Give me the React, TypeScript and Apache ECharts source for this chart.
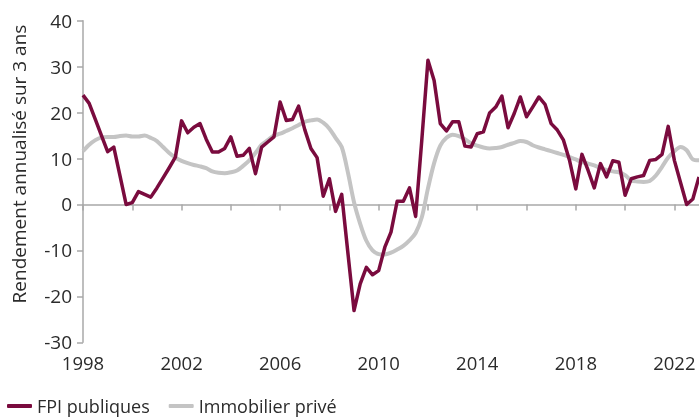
import React, { useEffect, useRef } from "react";
import * as echarts from "echarts";

const years: number[] = [
  1998, 1999, 2000, 2001, 2002, 2003, 2004, 2005, 2006, 2007, 2008, 2009, 2010,
  2011, 2012, 2013, 2014, 2015, 2016, 2017, 2018, 2019, 2020, 2021, 2022, 2023,
];
const quarterNames: string[] = ["T1", "T2", "T3", "T4"];

// FPI publiques, quarterly 1998 T1 .. 2023 T1
const fpiPubliques: number[] = [
  23.8, 22.0, 18.5, 15.0,
  11.5, 12.5, 6.3, 0.0,
  0.4, 2.8, 2.2, 1.6,
  3.6, 5.8, 8.0, 10.3,
  18.2, 15.6, 16.8, 17.6,
  14.2, 11.4, 11.4, 12.2,
  14.7, 10.5, 10.7, 12.2,
  6.7, 12.5, 13.6, 14.7,
  22.3, 18.3, 18.5, 21.4,
  16.3, 12.2, 10.2, 1.8,
  5.6, -1.5, 2.2, -10.5,
  -23.1, -17.3, -13.7, -15.3,
  -14.4, -9.3, -6.0, 0.7,
  0.7, 3.6, -2.6, 14.0,
  31.4, 27.0, 17.6, 16.0,
  18.0, 18.0, 12.7, 12.5,
  15.4, 15.8, 19.9, 21.2,
  23.6, 16.7, 19.8, 23.4,
  19.1, 21.2, 23.4, 21.8,
  17.6, 16.2, 14.0, 9.5,
  3.4, 10.9, 7.4, 3.6,
  8.9, 6.0, 9.5, 9.2,
  2.0, 5.6, 6.0, 6.3,
  9.6, 9.8, 10.9, 17.0,
  9.6, 4.8, 0.0, 1.2,
  6.0,
];

// Immobilier privé, quarterly 1998 T1 .. 2023 T1
const immobilierPrive: number[] = [
  11.6, 13.0, 14.0, 14.6,
  14.7, 14.7, 14.9, 15.0,
  14.8, 14.8, 15.0, 14.5,
  13.8, 12.5, 11.2, 10.2,
  9.5, 9.0, 8.6, 8.3,
  7.9, 7.2, 6.9, 6.8,
  7.0, 7.4, 8.4, 9.6,
  11.2, 13.0, 14.0, 15.0,
  15.4, 16.0, 16.6, 17.3,
  18.0, 18.3, 18.5, 17.8,
  16.5, 14.5, 12.5, 7.0,
  0.5, -4.2, -7.9, -10.0,
  -10.8, -10.9, -10.5, -9.8,
  -9.0, -7.8, -6.2, -2.8,
  3.5, 9.0, 12.8, 14.5,
  15.2, 14.9, 14.2, 13.3,
  12.8, 12.4, 12.2, 12.3,
  12.5, 13.0, 13.4, 13.8,
  13.6, 12.9, 12.4, 12.0,
  11.6, 11.2, 10.8, 10.3,
  9.8, 9.2, 8.9, 8.5,
  7.9, 7.5, 7.2, 7.0,
  6.4, 5.2, 5.0, 4.9,
  5.1, 6.3, 8.2, 10.2,
  11.6, 12.5, 11.8, 9.8,
  9.6,
];

const seriesNames: string[] = ["FPI publiques", "Immobilier privé"];
const yTitle = "Rendement annualisé sur 3 ans";

const categories: string[] = [];
years.forEach((y) => quarterNames.forEach((q) => categories.push(`${y} ${q}`)));
const cats = categories.slice(0, fpiPubliques.length);

const FONT = "'Open Sans', 'Noto Sans', sans-serif";
const TEXT = "#2b2b2b";
const AXIS = "#a8a8a8";

export default function App() {
  const ref = useRef<HTMLDivElement>(null);
  useEffect(() => {
    if (!ref.current) return;
    const chart = echarts.init(ref.current, undefined, { renderer: "svg" });
    chart.setOption({
      animation: false,
      textStyle: { fontFamily: FONT, color: TEXT },
      grid: { left: 83, right: 0, top: 20.7, bottom: 75.7, containLabel: false },
      legend: {
        left: 7,
        top: 396,
        padding: 0,
        itemWidth: 25,
        itemHeight: 4,
        itemGap: 19,
        icon: "roundRect",
        textStyle: {
          fontFamily: FONT,
          fontSize: 18,
          lineHeight: 20,
          color: TEXT,
          padding: [0, 0, 0, 0],
        },
        data: seriesNames,
      },
      graphic: [
        {
          type: "text",
          x: 19,
          y: 164,
          rotation: Math.PI / 2,
          style: {
            text: yTitle,
            font: `19px ${FONT}`,
            fill: TEXT,
            align: "center",
            verticalAlign: "middle",
          },
        },
      ],
      xAxis: [
        {
          type: "category",
          position: "bottom",
          data: cats,
          boundaryGap: false,
          axisLine: { onZero: true, lineStyle: { color: AXIS, width: 1.5 } },
          axisTick: { show: true, interval: 7, length: 6, lineStyle: { color: AXIS, width: 1.5 } },
          axisLabel: { show: false },
          splitLine: { show: false },
        },
        {
          type: "category",
          position: "bottom",
          data: cats,
          boundaryGap: false,
          axisLine: { show: false, onZero: false },
          axisTick: { show: false },
          axisLabel: {
            show: true,
            interval: 15,
            margin: 11,
            fontSize: 18.5,
            color: TEXT,
            fontFamily: FONT,
            formatter: (v: string) => v.slice(0, 4),
          },
          splitLine: { show: false },
        },
      ],
      yAxis: {
        type: "value",
        min: -30,
        max: 40,
        interval: 10,
        axisLine: { show: true, lineStyle: { color: AXIS, width: 1.5 } },
        axisTick: { show: true, length: 6, lineStyle: { color: AXIS, width: 1.5 } },
        axisLabel: { margin: 11, fontSize: 19, color: TEXT, fontFamily: FONT },
        splitLine: { show: false },
      },
      series: [
        {
          name: seriesNames[0],
          type: "line",
          xAxisIndex: 0,
          data: fpiPubliques,
          showSymbol: false,
          symbol: "none",
          z: 3,
          lineStyle: { color: "#7a0b3e", width: 3.5, join: "round" },
          itemStyle: { color: "#7a0b3e" },
        },
        {
          name: seriesNames[1],
          type: "line",
          xAxisIndex: 0,
          data: immobilierPrive,
          showSymbol: false,
          symbol: "none",
          smooth: 0.3,
          z: 2,
          lineStyle: { color: "#c4c4c4", width: 4 },
          itemStyle: { color: "#c4c4c4" },
        },
      ],
    });
    return () => chart.dispose();
  }, []);
  return (
    <div
      ref={ref}
      style={{ position: "fixed", left: 0, top: 0, width: 699, height: 418 }}
    />
  );
}
